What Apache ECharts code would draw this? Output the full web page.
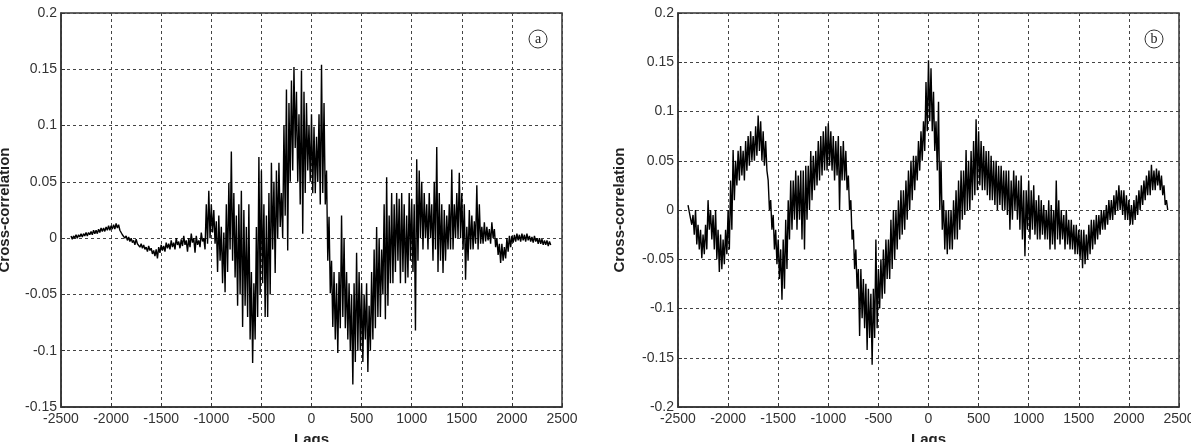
<!DOCTYPE html>
<html>
<head>
<meta charset="utf-8">
<script src="https://cdn.jsdelivr.net/npm/echarts@6/dist/echarts.min.js"></script>
<style>
  html, body { margin: 0; padding: 0; background: #fff; }
  #chart { width: 1191px; height: 442px; }
</style>
</head>
<body>
<div id="chart"></div>
<script>
// lags are read in bins of 25, starting at -2400; for every bin the
// upper and lower extremes of the trace are given
var lagStart = -2400;
var lagStep = 25;
var xTicks = [-2500, 2500, 500];

// panel (a)
var hiA = [
  0.002, 0.002, 0.003, 0.003, 0.004, 0.004, 0.005, 0.005,
  0.006, 0.007, 0.007, 0.008, 0.009, 0.009, 0.010, 0.011,
  0.011, 0.012, 0.013, 0.012, 0.008, 0.004, 0.002, 0.001,
  0.000, -0.002, -0.001, -0.004, -0.005, -0.006, -0.008, -0.007,
  -0.009, -0.011, -0.010, -0.008, -0.006, -0.007, -0.004, -0.005,
  -0.002, -0.004, 0.000, -0.003, -0.001, 0.002, -0.002, 0.000,
  0.004, 0.000, 0.002, -0.002, 0.005, 0.000, 0.030, 0.042,
  0.030, 0.025, 0.015, 0.020, 0.010, 0.005, 0.030, 0.049,
  0.077, 0.040, 0.020, 0.030, 0.042, 0.025, 0.010, 0.030,
  -0.030, -0.040, 0.010, 0.072, 0.060, 0.030, 0.020, 0.040,
  0.067, 0.050, 0.060, 0.067, 0.040, 0.100, 0.132, 0.120,
  0.140, 0.152, 0.130, 0.110, 0.149, 0.130, 0.120, 0.100,
  0.110, 0.099, 0.090, 0.110, 0.154, 0.120, 0.060, 0.019,
  -0.020, -0.030, -0.040, -0.030, 0.020, 0.000, -0.030, -0.040,
  -0.050, -0.040, -0.013, -0.030, -0.040, -0.050, -0.040, -0.060,
  -0.030, -0.010, 0.010, 0.000, -0.010, 0.030, 0.054, 0.020,
  0.040, 0.030, 0.040, 0.035, 0.040, 0.030, 0.020, 0.040,
  0.035, 0.030, 0.070, 0.060, 0.050, 0.040, 0.030, 0.040,
  0.030, 0.050, 0.081, 0.040, 0.030, 0.025, 0.020, 0.030,
  0.061, 0.030, 0.040, 0.058, 0.040, 0.030, 0.010, 0.025,
  0.020, 0.015, 0.047, 0.030, 0.010, 0.014, 0.010, 0.008,
  0.014, 0.008, 0.000, -0.005, -0.005, -0.008, 0.000, 0.002,
  0.002, 0.003, 0.004, 0.003, 0.004, 0.003, 0.004, 0.002,
  0.001, 0.002, 0.000, 0.000, -0.001, -0.002, -0.002, -0.003
];
var loA = [
  -0.001, 0.000, 0.000, 0.001, 0.001, 0.002, 0.002, 0.003,
  0.003, 0.004, 0.004, 0.005, 0.006, 0.006, 0.007, 0.007,
  0.008, 0.008, 0.009, 0.007, 0.003, 0.000, -0.002, -0.003,
  -0.004, -0.006, -0.005, -0.008, -0.009, -0.010, -0.012, -0.011,
  -0.014, -0.016, -0.018, -0.013, -0.011, -0.012, -0.009, -0.010,
  -0.008, -0.010, -0.006, -0.009, -0.007, -0.006, -0.012, -0.008,
  -0.004, -0.013, -0.006, -0.008, -0.003, -0.010, -0.005, 0.000,
  0.005, -0.005, -0.030, -0.020, -0.040, -0.048, -0.030, -0.010,
  -0.020, -0.035, -0.060, -0.050, -0.079, -0.060, -0.070, -0.090,
  -0.111, -0.090, -0.070, -0.050, -0.040, -0.070, -0.070, -0.050,
  -0.010, -0.031, 0.000, 0.010, 0.000, 0.020, -0.011, 0.050,
  0.060, 0.080, 0.050, 0.030, 0.004, 0.040, 0.060, 0.050,
  0.040, 0.040, 0.050, 0.030, 0.040, 0.030, -0.020, -0.049,
  -0.079, -0.090, -0.102, -0.080, -0.070, -0.080, -0.090, -0.100,
  -0.130, -0.110, -0.100, -0.100, -0.110, -0.090, -0.119, -0.100,
  -0.090, -0.080, -0.070, -0.070, -0.050, -0.072, -0.060, -0.040,
  -0.040, -0.030, -0.020, -0.040, -0.030, -0.040, -0.035, -0.020,
  -0.030, -0.082, -0.020, 0.000, -0.010, 0.000, -0.010, 0.000,
  -0.020, -0.010, -0.030, -0.020, -0.031, -0.020, -0.010, -0.010,
  -0.010, 0.000, 0.000, 0.000, -0.010, -0.037, -0.020, -0.010,
  -0.010, -0.005, -0.010, -0.005, -0.005, -0.003, -0.002, -0.005,
  0.000, -0.008, -0.015, -0.022, -0.020, -0.018, -0.012, -0.008,
  -0.004, -0.003, -0.002, -0.003, -0.002, -0.003, -0.002, -0.003,
  -0.004, -0.003, -0.005, -0.005, -0.006, -0.006, -0.007, -0.006
];
var yTicksA = [-0.15, 0.2, 0.05];

// panel (b)
var hiB = [
  0.005, 0.000, -0.005, 0.000, -0.015, -0.020, -0.025, -0.015,
  0.010, 0.000, -0.005, 0.000, -0.020, -0.025, -0.030, -0.020,
  0.000, 0.030, 0.061, 0.050, 0.060, 0.065, 0.060, 0.070,
  0.075, 0.080, 0.075, 0.085, 0.096, 0.090, 0.080, 0.070,
  0.030, 0.010, -0.005, -0.020, -0.030, -0.040, -0.030, -0.010,
  0.010, 0.030, 0.030, 0.040, 0.035, 0.040, 0.040, 0.045,
  0.045, 0.060, 0.055, 0.060, 0.070, 0.075, 0.080, 0.085,
  0.088, 0.080, 0.075, 0.070, 0.075, 0.065, 0.070, 0.060,
  0.035, 0.010, -0.020, -0.040, -0.060, -0.060, -0.070, -0.075,
  -0.080, -0.085, -0.080, -0.030, -0.060, -0.050, -0.040, -0.030,
  -0.030, -0.010, 0.000, 0.000, 0.010, 0.020, 0.020, 0.030,
  0.040, 0.050, 0.055, 0.055, 0.070, 0.080, 0.090, 0.130,
  0.152, 0.144, 0.120, 0.090, 0.110, 0.050, 0.010, 0.000,
  0.000, 0.000, 0.010, 0.020, 0.030, 0.040, 0.040, 0.061,
  0.050, 0.060, 0.070, 0.092, 0.080, 0.070, 0.065, 0.060,
  0.060, 0.055, 0.050, 0.050, 0.045, 0.045, 0.040, 0.040,
  0.040, 0.030, 0.040, 0.035, 0.030, 0.035, 0.020, 0.020,
  0.030, 0.020, 0.025, 0.010, 0.015, 0.010, 0.005, 0.000,
  0.010, 0.005, 0.000, 0.030, 0.010, 0.000, -0.005, 0.000,
  -0.010, -0.010, -0.015, -0.015, -0.020, -0.020, -0.020, -0.025,
  -0.015, -0.010, -0.010, -0.005, -0.005, 0.000, 0.000, 0.005,
  0.010, 0.010, 0.015, 0.020, 0.025, 0.020, 0.020, 0.015,
  0.010, 0.005, 0.010, 0.015, 0.020, 0.025, 0.030, 0.035,
  0.040, 0.046, 0.040, 0.042, 0.040, 0.035, 0.025, 0.010
];
var loB = [
  -0.002, -0.015, -0.025, -0.035, -0.040, -0.049, -0.045, -0.040,
  -0.020, -0.030, -0.040, -0.050, -0.063, -0.060, -0.055, -0.045,
  -0.040, -0.020, 0.010, 0.025, 0.030, 0.035, 0.030, 0.040,
  0.045, 0.050, 0.050, 0.055, 0.060, 0.050, 0.045, 0.040,
  0.000, -0.020, -0.040, -0.055, -0.070, -0.091, -0.080, -0.060,
  -0.030, -0.020, -0.010, -0.020, -0.010, -0.030, -0.040, -0.010,
  0.000, 0.010, 0.020, 0.025, 0.030, 0.035, 0.040, 0.040,
  0.045, 0.040, 0.030, 0.035, 0.000, 0.030, 0.030, 0.020,
  0.000, -0.030, -0.060, -0.080, -0.128, -0.110, -0.120, -0.142,
  -0.130, -0.157, -0.130, -0.120, -0.100, -0.090, -0.085, -0.070,
  -0.070, -0.060, -0.050, -0.040, -0.030, -0.025, -0.020, -0.010,
  0.000, 0.010, 0.020, 0.030, 0.040, 0.050, 0.060, 0.080,
  0.090, 0.080, 0.060, 0.040, 0.000, -0.020, -0.040, -0.045,
  -0.040, -0.040, -0.030, -0.030, -0.020, -0.010, -0.005, 0.000,
  0.000, 0.010, 0.015, 0.020, 0.025, 0.020, 0.020, 0.015,
  0.010, 0.010, 0.005, 0.000, 0.005, 0.000, 0.000, -0.005,
  -0.020, -0.010, 0.000, -0.010, -0.020, -0.030, -0.047, -0.020,
  -0.030, -0.020, -0.025, -0.030, -0.030, -0.025, -0.030, -0.030,
  -0.040, -0.035, -0.040, -0.030, -0.035, -0.030, -0.040, -0.035,
  -0.040, -0.040, -0.045, -0.045, -0.050, -0.059, -0.055, -0.050,
  -0.045, -0.040, -0.035, -0.030, -0.025, -0.020, -0.020, -0.015,
  -0.010, -0.010, -0.005, 0.000, 0.000, -0.005, -0.010, -0.010,
  -0.015, -0.015, -0.010, -0.005, 0.000, 0.005, 0.010, 0.015,
  0.015, 0.020, 0.020, 0.025, 0.020, 0.015, 0.005, 0.000
];
var yTicksB = [-0.2, 0.2, 0.05];

var axisColor = "#333";
var labelFont = "Liberation Sans";

// trace swings between the upper and lower value inside each bin
function toPairs(hi, lo) {
  var out = [];
  for (var i = 0; i < hi.length; i++) {
    var lag = lagStart + i * lagStep;
    out.push([lag, hi[i]]);
    out.push([lag + lagStep / 2, lo[i]]);
  }
  return out;
}

function makeXAxis(idx) {
  return {
    type: "value",
    gridIndex: idx,
    min: xTicks[0],
    max: xTicks[1],
    interval: xTicks[2],
    name: "Lags",
    nameLocation: "middle",
    nameGap: 25,
    nameTextStyle: { fontFamily: labelFont, fontWeight: "bold", fontSize: 15, color: "#222" },
    axisLine: { show: true, onZero: false, lineStyle: { color: axisColor, width: 1.5 } },
    axisTick: { show: true, inside: true, length: 4, lineStyle: { color: axisColor } },
    axisLabel: {
      fontFamily: labelFont,
      fontSize: 14,
      color: "#333",
      margin: 5,
      formatter: function (v) {
        return String(v);
      },
    },
    splitLine: { show: true, lineStyle: { color: "#444", type: [3, 3], width: 1 } },
  };
}

function makeYAxis(idx, ticks, gap) {
  return {
    type: "value",
    gridIndex: idx,
    min: ticks[0],
    max: ticks[1],
    interval: ticks[2],
    name: "Cross-correlation",
    nameLocation: "middle",
    nameGap: gap,
    nameRotate: 90,
    nameTextStyle: { fontFamily: labelFont, fontWeight: "bold", fontSize: 15, color: "#222" },
    axisLine: { show: true, onZero: false, lineStyle: { color: axisColor, width: 1.5 } },
    axisTick: { show: true, inside: true, length: 4, lineStyle: { color: axisColor } },
    axisLabel: {
      fontFamily: labelFont,
      fontSize: 14,
      color: "#333",
      margin: 4,
      formatter: function (v) {
        return String(+v.toFixed(2));
      },
    },
    splitLine: { show: true, lineStyle: { color: "#444", type: [3, 3], width: 1 } },
  };
}

function makeSeries(idx, hi, lo) {
  return {
    type: "line",
    xAxisIndex: idx,
    yAxisIndex: idx,
    data: toPairs(hi, lo),
    showSymbol: false,
    symbol: "none",
    animation: false,
    lineStyle: { color: "#000", width: 1.4 },
  };
}

function panelLetter(cx, cy, letter) {
  return {
    type: "group",
    children: [
      {
        type: "circle",
        shape: { cx: cx, cy: cy, r: 9 },
        style: { fill: "#fff", stroke: "#333", lineWidth: 1 },
      },
      {
        type: "text",
        x: cx,
        y: cy,
        style: {
          text: letter,
          fontFamily: "Liberation Serif",
          fontSize: 14,
          fill: "#222",
          align: "center",
          verticalAlign: "middle",
        },
      },
    ],
  };
}

var chartDom = document.getElementById("chart");
var myChart = echarts.init(chartDom, null, { renderer: "canvas" });
var option;

option = {
  backgroundColor: "#fff",
  animation: false,
  grid: [
    {
      left: 61, top: 13, width: 501, height: 394,
      show: true, borderColor: axisColor, borderWidth: 1.5,
      outerBoundsMode: "none",
    },
    {
      left: 678, top: 13, width: 501, height: 394,
      show: true, borderColor: axisColor, borderWidth: 1.5,
      outerBoundsMode: "none",
    },
  ],
  xAxis: [makeXAxis(0), makeXAxis(1)],
  yAxis: [makeYAxis(0, yTicksA, 49), makeYAxis(1, yTicksB, 51)],
  series: [makeSeries(0, hiA, loA), makeSeries(1, hiB, loB)],
  graphic: [panelLetter(538, 39, "a"), panelLetter(1154, 39, "b")],
};
option && myChart.setOption(option);
</script>
</body>
</html>
